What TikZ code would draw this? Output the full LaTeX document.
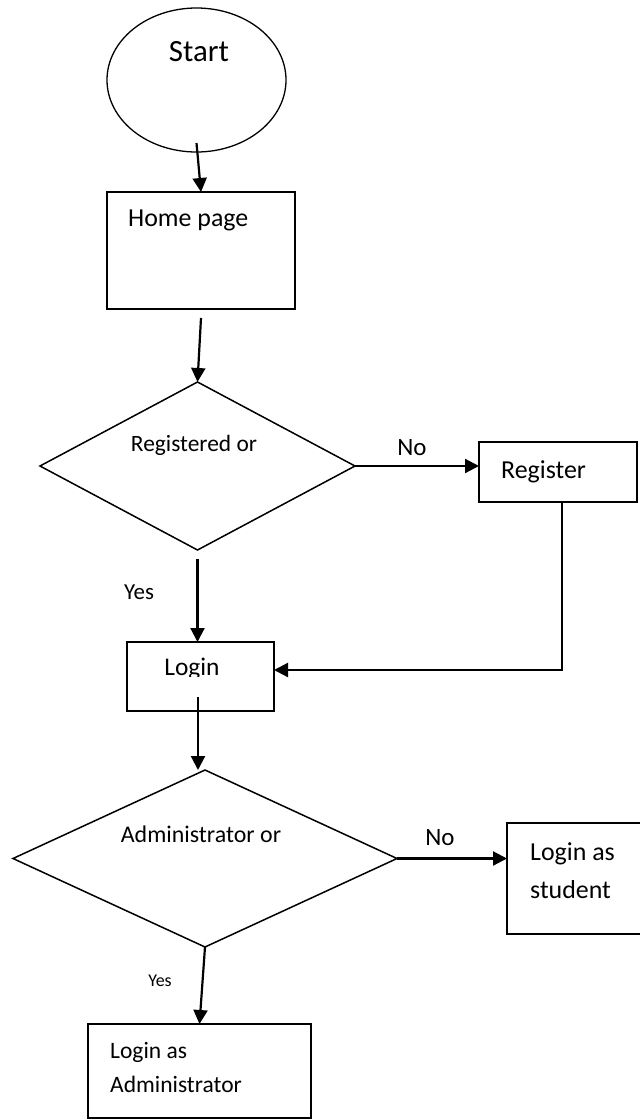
\documentclass[tikz,border=0pt]{standalone}
\usepackage{fontspec}
\setmainfont{Carlito}
\usepackage{tikz}
\usetikzlibrary{shapes.geometric,arrows.meta,calc}

\tikzset{
  terminal/.style={draw,ellipse,line width=1.3bp,inner sep=0pt,outer sep=0pt},
  box/.style={draw,rectangle,line width=1.8bp,inner sep=0pt,outer sep=0pt},
  decision/.style={draw,diamond,line width=1.5bp,inner sep=0pt,outer sep=0pt},
  arr/.style={line width=2.2bp,-{Triangle[length=14bp,width=14bp]}},
  txt/.style={inner sep=0pt,font=\fontsize{26}{38}\selectfont}
}

\begin{document}
\begin{tikzpicture}[x=1bp,y=1bp]
    \useasboundingbox (0,0) rectangle (640,-1120);

    \node[terminal,minimum width=179bp,minimum height=144bp] (start) at (196.5,-80) {};
    \node[txt,anchor=base,font=\fontsize{31}{36}\selectfont] (startT) at (199,-61) {Start};

    \node[box,minimum width=188bp,minimum height=117bp] (home) at (201,-250.5) {};
    \node[txt,anchor=base west] (homeT) at (128,-226) {Home page};

    \node[decision,minimum width=315bp,minimum height=168bp] (reg) at (197.5,-466) {};
    \node[txt,anchor=base,font=\fontsize{23.5}{28}\selectfont] (regT) at (194,-451) {Registered or};

    \node[box,minimum width=158bp,minimum height=60bp] (register) at (558,-472) {};
    \node[txt,anchor=base west] (registerT) at (501,-478) {Register};

    \node[box,minimum width=147bp,minimum height=69bp] (login) at (200.5,-676.5) {};
    \begin{scope}
        \clip (127,-642) rectangle (274,-676);
        \node[txt,anchor=base,font=\fontsize{25.5}{30}\selectfont] (loginT) at (192,-675) {Login};
    \end{scope}

    \node[decision,minimum width=384bp,minimum height=177bp] (adm) at (205,-858.5) {};
    \node[txt,anchor=base,font=\fontsize{24}{28}\selectfont] (admT) at (201,-842) {Administrator or};

    \node[box,minimum width=138bp,minimum height=111bp] (student) at (576,-878.5) {};
    \node[txt,anchor=base west,align=left] (studentT) at (530,-898) {Login as\\student};

    \node[box,minimum width=223bp,minimum height=94bp] (alog) at (199.5,-1071) {};
    \node[txt,anchor=base west,align=left,font=\fontsize{23.6}{34}\selectfont] (alogT) at (110,-1092) {Login as\\Administrator};

    \node[txt,anchor=base,font=\fontsize{25}{30}\selectfont] (noA) at (412,-455) {No};
    \node[txt,anchor=base,font=\fontsize{23}{28}\selectfont] (yesA) at (139,-599) {Yes};
    \node[txt,anchor=base,font=\fontsize{25}{30}\selectfont] (noB) at (440,-845) {No};
    \node[txt,anchor=base,font=\fontsize{18}{22}\selectfont] (yesB) at (160,-986) {Yes};

    \draw[arr] ([yshift=9bp]start.south) -- (home.north);
    \draw[arr] ([yshift=-9bp]home.south) -- (reg.north);
    \draw[arr] (reg.east) -- (reg.east -| register.west);
    \draw[arr] ([yshift=-9bp]reg.south) -- (reg.south |- login.north);
    \draw[arr] ([xshift=4bp]register.south) |- ([yshift=6.5bp]login.east);
    \draw[arr] ([xshift=-2.5bp,yshift=14bp]login.south) -- ([xshift=-2.5bp]login.south |- adm.north);
    \draw[arr] (adm.east) -- (adm.east -| student.west);
    \draw[arr] (adm.south) -- (alog.north);
\end{tikzpicture}
\end{document}
